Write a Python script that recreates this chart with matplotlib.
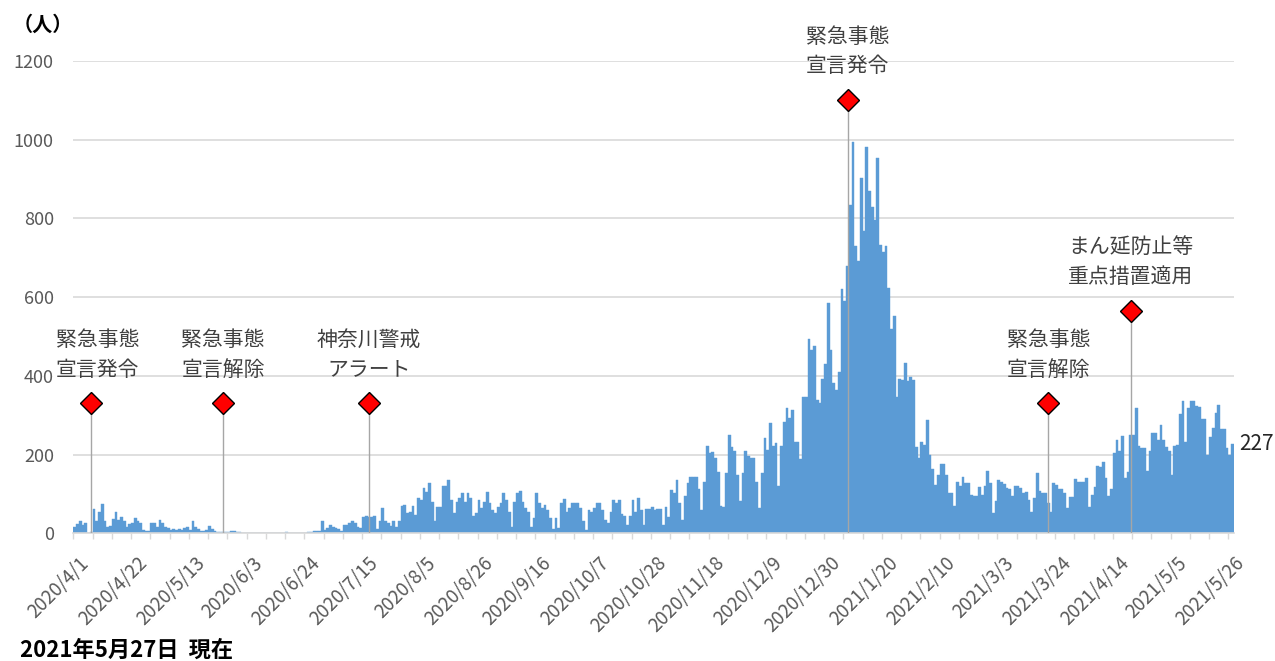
import numpy as np
import pandas as pd
import matplotlib
matplotlib.use("Agg")
import matplotlib.pyplot as plt
import matplotlib.transforms as mtransforms

plt.rcParams['font.family'] = ['Noto Sans CJK JP', 'DejaVu Sans']

dates = pd.date_range("2020-04-01", "2021-05-27", freq="D")

# daily new cases
cases_first_wave = [17, 24, 30, 21, 25, 2, 3, 61, 30, 53,
                    74, 30, 15, 19, 36, 53, 34, 41, 30, 15,
                    24, 27, 38, 30, 25, 8, 7, 7, 25, 25,
                    15, 34, 25, 15, 13, 8, 10, 8, 10, 8,
                    13, 15, 8, 30, 15, 10, 6, 6, 8, 19,
                    10, 6, 3, 3, 3, 3, 3, 6, 6, 3,
                    3, 2, 2, 2, 2, 2, 2, 2, 0, 1,
                    0, 2, 2, 2, 0, 0, 2, 4, 2, 2,
                    2, 0, 0, 2, 2, 3, 4, 6, 6, 6,
                    30, 8, 13]
cases_summer = [21, 17, 14, 10, 7, 21, 21,
                25, 31, 25, 15, 13, 41, 44, 41, 42, 44,
                10, 30, 64, 30, 25, 19, 30, 17, 30, 70,
                72, 51, 55, 70, 47, 89, 85, 114, 106, 127,
                80, 30, 68, 68, 119, 119, 136, 85, 51, 80,
                89, 102, 80, 102, 90, 44, 51, 85, 64, 80,
                106, 76, 59, 51, 68, 76, 103, 85, 55, 17,
                80, 103, 108, 80, 64, 55, 17, 38, 102, 76,
                64, 72, 59, 38, 10, 38, 13, 76, 86, 55,
                64, 76, 76, 76, 64, 30, 8, 59, 55, 64, 76]
cases_autumn = [76, 59, 34, 25, 55, 85, 76, 85, 49, 44,
                21, 44, 85, 55, 89, 59, 21, 61, 61, 68,
                59, 61, 61, 21, 66, 42, 110, 102, 136, 76,
                34, 95, 127, 144, 144, 142, 112, 58, 131, 222,
                203, 206, 191, 157, 69, 66, 154, 250, 219, 210,
                148, 81, 154, 210, 197, 191, 191, 131, 64, 153,
                242, 212, 281, 222, 229, 120, 222, 284, 318, 292,
                314, 233, 233, 188, 346, 346, 493, 466, 477, 339,
                332, 392, 430, 585]
cases_january = [466, 381, 364, 411, 620, 589, 680, 835, 993, 729,
                 691, 903, 767, 981, 869, 829, 797, 953, 733, 714,
                 731, 623, 519, 553, 347, 392, 390, 432, 388, 397, 390]
cases_feb_mar = [219, 191, 231, 225, 287, 199, 163, 123, 148, 176,
                 176, 148, 103, 103, 69, 131, 119, 144, 127, 127,
                 97, 96, 95, 117, 97, 120, 159, 127, 51, 81,
                 136, 131, 125, 114, 112, 95, 119, 120, 114, 102,
                 106, 85, 53, 89, 154, 108, 103, 103, 78, 53,
                 129, 123, 112, 112, 102, 64]
cases_spring = [93, 93, 137, 131, 131, 131, 140, 66, 97, 117,
                171, 168, 180, 140, 95, 112, 205, 237, 208, 246,
                140, 157, 250, 250, 318, 222, 216, 216, 159, 210,
                254, 254, 237, 275, 237, 220, 210, 148, 222, 225,
                303, 335, 233, 318, 335, 335, 324, 320, 290, 290,
                199, 244, 267, 305, 326, 264, 264, 216, 199, 227]

cases = (cases_first_wave + cases_summer + cases_autumn
         + cases_january + cases_feb_mar + cases_spring)

event_labels = ["緊急事態\n宣言発令", "緊急事態\n宣言解除", "神奈川警戒\nアラート",
                "緊急事態\n宣言発令", "緊急事態\n宣言解除", "まん延防止等\n重点措置適用"]
event_dates = ["2020-04-07", "2020-05-25", "2020-07-17",
               "2021-01-07", "2021-03-21", "2021-04-20"]
event_levels = [330, 330, 330, 1100, 330, 565]

x = np.arange(len(dates))

fig = plt.figure(figsize=(12.75, 6.61), dpi=100)
ax = fig.add_axes([73.3 / 1275, 1 - 533.3 / 661, (1234 - 73.3) / 1275, (533.3 - 61) / 661])

ax.bar(x, cases, width=1.0, color="#5B9BD5", edgecolor="#5B9BD5", linewidth=0.3, zorder=2)

ax.set_xlim(-0.5, len(x) - 0.5)
ax.set_ylim(0, 1200)
ax.set_yticks(range(0, 1201, 200))
ax.grid(axis="y", color="#d9d9d9", linewidth=1.2, zorder=0)
ax.set_axisbelow(True)
for s in ["left", "top", "right"]:
    ax.spines[s].set_visible(False)
ax.spines["bottom"].set_color("#d9d9d9")
ax.spines["bottom"].set_linewidth(1.2)
ax.tick_params(axis="y", length=0, pad=14, labelsize=13, labelcolor="#595959")

ax.set_xticks(x[::21])
ax.set_xticklabels([f"{d.year}/{d.month}/{d.day}" for d in dates[::21]],
                   rotation=45, ha="right", va="top", rotation_mode="anchor")
ax.tick_params(axis="x", which="major", length=0, pad=14, labelsize=13.5, labelcolor="#595959")
ax.set_xticks(np.arange(-0.5, len(x), 7), minor=True)
ax.tick_params(axis="x", which="minor", length=4, width=1, color="#d9d9d9")
shift = mtransforms.ScaledTranslation(4 / 100, 0, fig.dpi_scale_trans)
for lab in ax.get_xticklabels():
    lab.set_transform(lab.get_transform() + shift)

# event markers
for i, (lab, d, lev) in enumerate(zip(event_labels, event_dates, event_levels)):
    xe = dates.get_loc(pd.Timestamp(d))
    ax.vlines(xe, 0, lev, color="#a6a6a6", linewidth=1, zorder=3)
    ax.plot(xe, lev, marker="D", markersize=11.5, markerfacecolor="red",
            markeredgecolor="black", markeredgewidth=1, clip_on=False, zorder=5)
    dx = 4.5 if i == 0 else 0  # first label sits a little right of its marker
    ax.annotate(lab, (xe, lev), xytext=(dx, 16.5), textcoords="offset points",
                ha="center", va="bottom", fontsize=15, color="#404040",
                linespacing=1.45, annotation_clip=False)

ax.annotate(str(cases[-1]), (len(x) - 0.5, cases[-1]), xytext=(4, 0),
            textcoords="offset points", ha="left", va="center",
            fontsize=15, color="#262626", annotation_clip=False)

fig.text(13 / 1275, 1 - 24 / 661, "（人）", fontsize=14.5, fontweight="bold",
         color="black", ha="left", va="center")
fig.text(20 / 1275, 1 - 650 / 661, "2021年5月27日  現在", fontsize=16,
         fontweight="bold", color="black", ha="left", va="center")

fig.savefig("out.png", dpi=100)
